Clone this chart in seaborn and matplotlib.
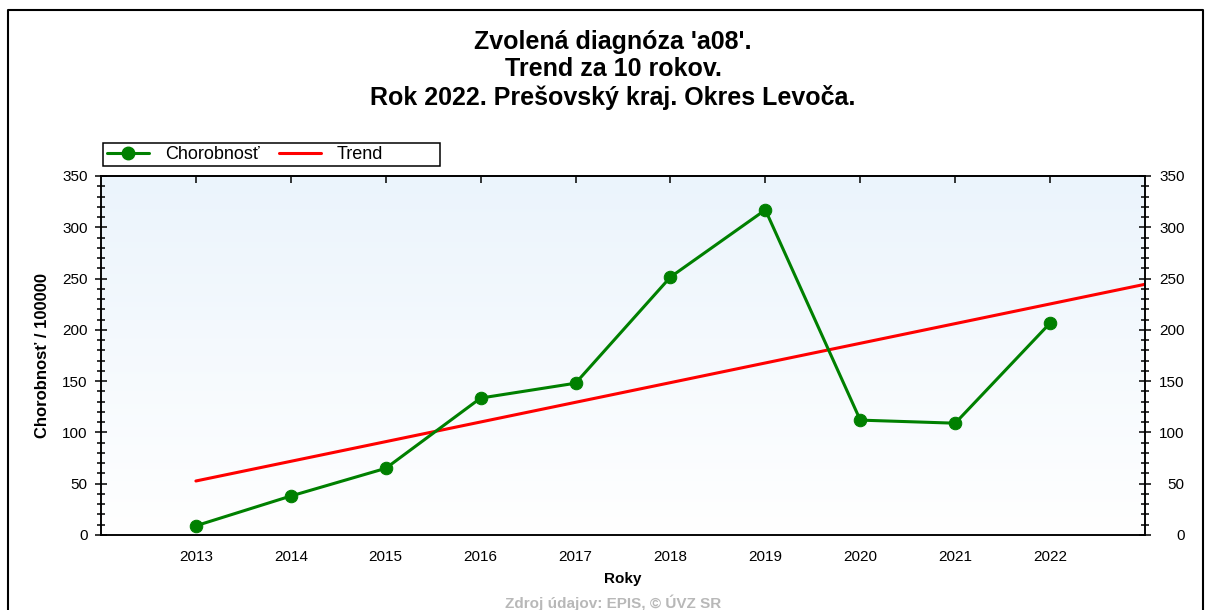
import numpy as np
import pandas as pd
import matplotlib
matplotlib.use("Agg")
import matplotlib.pyplot as plt
from matplotlib.lines import Line2D
from matplotlib.patches import Rectangle
import seaborn as sns

# --- Dane ---
roky = [2013, 2014, 2015, 2016, 2017, 2018, 2019, 2020, 2021, 2022]
chorobnost = [9, 38, 65, 133.5, 148, 251.5, 317, 112, 109, 206.6]
trend_roky = [2013, 2023]

titulok = ["Zvolená diagnóza 'a08'.", "Trend za 10 rokov.", "Rok 2022. Prešovský kraj. Okres Levoča."]

df = pd.DataFrame({"rok": roky, "chorobnost": chorobnost})

# linearny trend z dat
k, q = np.polyfit(df["rok"], df["chorobnost"], 1)
df_trend = pd.DataFrame({"rok": trend_roky, "trend": [k * r + q for r in trend_roky]})

sns.set_style("white")
plt.rcParams["font.family"] = ["Liberation Sans", "DejaVu Sans"]
plt.rcParams["text.color"] = "black"
plt.rcParams["axes.labelcolor"] = "black"
plt.rcParams["xtick.color"] = "black"
plt.rcParams["ytick.color"] = "black"

W, H = 1205, 610
fig = plt.figure(figsize=(W / 100, H / 100), dpi=100)
ax = fig.add_axes([101 / W, 1 - 535 / H, 1044 / W, 359 / H])

# pozadie s prechodom (hore modre, dole biele)
grad = np.linspace(0, 1, 256).reshape(-1, 1)
cmap = matplotlib.colors.LinearSegmentedColormap.from_list("bg", ["#ffffff", "#ebf4fc"])
ax.imshow(grad, extent=[2012, 2023, 0, 350], origin="lower", aspect="auto", cmap=cmap, zorder=0)

sns.lineplot(data=df_trend, x="rok", y="trend", color="#ff0000", lw=2.2, ax=ax, zorder=2)
sns.lineplot(data=df, x="rok", y="chorobnost", color="#008000", lw=2.2, marker="o",
             markersize=9, markeredgecolor="#008000", ax=ax, zorder=3)

ax.set_xlim(2012, 2023)
ax.set_ylim(0, 350)
ax.set_xticks(list(range(2012, 2024)))
ax.set_xticklabels([""] + [str(r) for r in roky] + [""])
ax.set_yticks(range(0, 351, 50))
ax.set_yticks(range(0, 351, 10), minor=True)

for s in ax.spines.values():
    s.set_color("black")
    s.set_linewidth(1.1)

ax.tick_params(axis="x", direction="inout", length=9, width=1.1, labelsize=11, pad=6)
ax.tick_params(axis="y", which="major", direction="inout", length=9, width=1.1, labelsize=11,
               left=True, right=False, pad=5)
ax.tick_params(axis="y", which="minor", direction="inout", length=6, width=1.1, left=True, right=False)

# prava os
ax2 = ax.twinx()
ax2.set_ylim(0, 350)
ax2.set_yticks(range(0, 351, 50))
ax2.set_yticks(range(0, 351, 10), minor=True)
ax2.tick_params(axis="y", which="major", direction="inout", length=9, width=1.1, labelsize=11, pad=24)
ax2.tick_params(axis="y", which="minor", direction="inout", length=6, width=1.1)
for t in ax2.yaxis.get_major_ticks():
    t.label2.set_horizontalalignment("right")
for s in ax2.spines.values():
    s.set_color("black")
    s.set_linewidth(1.1)

# horne ticky smerom dnu
sec = ax.secondary_xaxis("top")
sec.set_xticks(roky)
sec.set_xticklabels([])
sec.tick_params(direction="in", length=5, width=1.1)
sec.spines["top"].set_linewidth(1.1)

ax.set_xlabel("Roky", fontsize=11, fontweight="bold", labelpad=6)
ax.set_ylabel("Chorobnosť / 100000", fontsize=12, fontweight="bold", labelpad=9)

# nadpis
for i, riadok in enumerate(titulok):
    fig.text(613 / W, 1 - (42 + 27.5 * i) / H, riadok, ha="center", va="center",
             fontsize=18, fontweight="bold")

# legenda
fig.patches.append(Rectangle((103 / W, 1 - 166 / H), 337 / W, 23 / H, transform=fig.transFigure,
                             facecolor="white", edgecolor="black", lw=1.1))
handles = [Line2D([], [], color="#008000", lw=2.2, marker="o", markersize=9),
           Line2D([], [], color="#ff0000", lw=2.2)]
fig.legend(handles, ["Chorobnosť", "Trend"], loc="center left", bbox_to_anchor=(107 / W, 1 - 154.5 / H),
           ncol=2, frameon=False, fontsize=13, handlelength=2.3, columnspacing=1.1, handletextpad=0.9,
           borderpad=0, borderaxespad=0)

fig.text(613 / W, 1 - 603 / H, "Zdroj údajov: EPIS, © ÚVZ SR", ha="center", va="center",
         fontsize=11, fontweight="bold", color="#b8b8b8")

# ram okolo obrazku
fig.add_artist(Line2D([8 / W, 8 / W, 1203 / W, 1203 / W], [0, 1 - 10 / H, 1 - 10 / H, 0],
                      transform=fig.transFigure, color="black", lw=1.5))

fig.savefig("out.png", dpi=100)
